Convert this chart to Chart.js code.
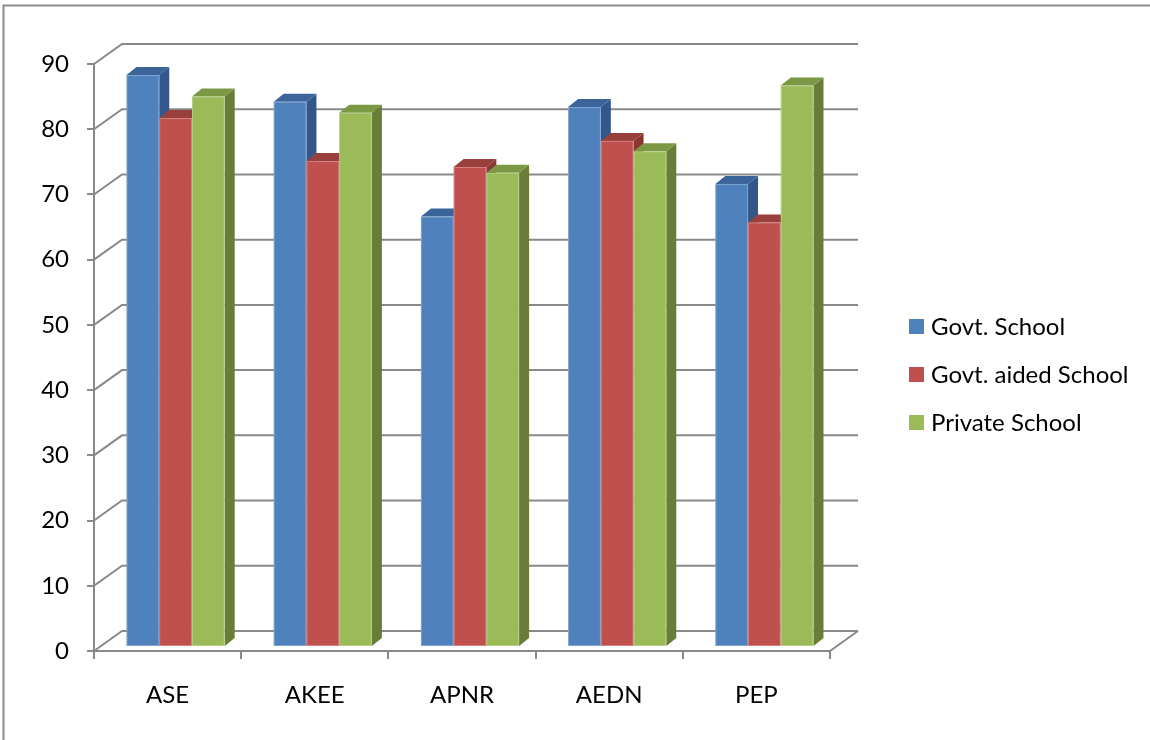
<!DOCTYPE html>
<html>
<head>
<meta charset="utf-8">
<script src="https://cdn.jsdelivr.net/npm/chart.js@4.4.1/dist/chart.umd.min.js"></script>
<style>
  html, body { margin: 0; padding: 0; background: #ffffff; }
  #wrap { position: relative; width: 1150px; height: 740px; }
</style>
</head>
<body>
<div id="wrap"><canvas id="c" width="1150" height="740"></canvas></div>
<script>
// Category labels and series values
const categories = ['ASE', 'AKEE', 'APNR', 'AEDN', 'PEP'];
const seriesNames = ['Govt. School', 'Govt. aided School', 'Private School'];
const govtSchool = [87.7, 83.6, 66.0, 82.8, 71.0];
const govtAidedSchool = [81.1, 74.5, 73.6, 77.6, 65.1];
const privateSchool = [84.4, 81.9, 72.7, 76.0, 86.1];
const yMin = 0, yMax = 90, yStep = 10;

// Face colours: front, top, side
const frontColors = ['#4F81BD', '#C0504D', '#9BBB59'];
const topColors = ['#3B659A', '#99403D', '#7B9845'];
const sideColors = ['#33578A', '#8A3633', '#677D38'];

const GRID = '#898989';
const FONT = 'Lato';
const FONT_SIZE = 24;

// 3D geometry of the plot box (wall depth) and of the bars
const WALL_DX = 28, WALL_DY = -20;
const BAR_OX = 8, BAR_OY = -4;      // bar front plane behind the floor edge
const BAR_DX = 10, BAR_DY = -8;     // bar depth

const box3d = {
  id: 'box3d',
  beforeDraw(chart) {
    const ctx = chart.ctx;
    ctx.save();
    ctx.fillStyle = '#ffffff';
    ctx.fillRect(0, 0, chart.width, chart.height);
    // outer frame
    ctx.strokeStyle = '#8c8c8c';
    ctx.lineWidth = 2;
    ctx.beginPath();
    ctx.moveTo(3.5, chart.height);
    ctx.lineTo(3.5, 5.5);
    ctx.lineTo(chart.width, 5.5);
    ctx.stroke();
    ctx.restore();
  },
  beforeDatasetsDraw(chart) {
    const ctx = chart.ctx;
    const ys = chart.scales.y;
    const a = chart.chartArea;
    ctx.save();
    // gridlines: side wall diagonal + back wall
    ctx.strokeStyle = GRID;
    ctx.lineWidth = 2;
    ctx.lineJoin = 'miter';
    ys.ticks.forEach(t => {
      const y = ys.getPixelForValue(t.value);
      ctx.beginPath();
      ctx.moveTo(a.left, y);
      ctx.lineTo(a.left + WALL_DX, y + WALL_DY);
      ctx.lineTo(a.right + WALL_DX, y + WALL_DY);
      ctx.stroke();
    });
    // right edge of the floor
    ctx.beginPath();
    ctx.moveTo(a.right, a.bottom);
    ctx.lineTo(a.right + WALL_DX, a.bottom + WALL_DY);
    ctx.stroke();

    // bars, left to right inside each group
    chart.data.datasets.forEach((ds, d) => {
      const meta = chart.getDatasetMeta(d);
      meta.data.forEach(el => {
        const p = el.getProps(['x', 'y', 'base', 'width'], true);
        const l = p.x - p.width / 2 + BAR_OX;
        const r = p.x + p.width / 2 + BAR_OX;
        const t = p.y + BAR_OY;
        const b = p.base + BAR_OY;
        // side face
        ctx.fillStyle = sideColors[d];
        ctx.beginPath();
        ctx.moveTo(r, t);
        ctx.lineTo(r + BAR_DX, t + BAR_DY);
        ctx.lineTo(r + BAR_DX, b + BAR_DY);
        ctx.lineTo(r, b);
        ctx.closePath();
        ctx.fill();
        // top face
        ctx.fillStyle = topColors[d];
        ctx.beginPath();
        ctx.moveTo(l, t);
        ctx.lineTo(l + BAR_DX, t + BAR_DY);
        ctx.lineTo(r + BAR_DX, t + BAR_DY);
        ctx.lineTo(r, t);
        ctx.closePath();
        ctx.fill();
        // front face
        ctx.fillStyle = frontColors[d];
        ctx.fillRect(l, t, r - l, b - t);
        ctx.strokeStyle = 'rgba(255,255,255,0.28)';
        ctx.lineWidth = 1;
        ctx.strokeRect(l + 0.5, t + 0.5, r - l - 1, b - t - 1);
      });
    });
    ctx.restore();
    return false;
  },
  afterDraw(chart) {
    // legend at the right
    const ctx = chart.ctx;
    ctx.save();
    ctx.font = FONT_SIZE + 'px ' + FONT;
    ctx.textBaseline = 'middle';
    ctx.textAlign = 'left';
    chart.data.datasets.forEach((ds, i) => {
      const cy = 326.5 + i * 48;
      ctx.fillStyle = ds.backgroundColor;
      ctx.fillRect(909, cy - 7.5, 15, 15);
      ctx.fillStyle = '#000000';
      ctx.fillText(ds.label, 931, cy + 1);
    });
    ctx.restore();
  }
};

const seriesValues = [govtSchool, govtAidedSchool, privateSchool];

new Chart(document.getElementById('c'), {
  type: 'bar',
  data: {
    labels: categories,
    datasets: seriesValues.map((vals, i) => ({
      label: seriesNames[i],
      data: vals,
      backgroundColor: frontColors[i],
      borderWidth: 0,
      categoryPercentage: 0.667,
      barPercentage: 1
    }))
  },
  options: {
    responsive: false,
    animation: false,
    devicePixelRatio: 1,
    layout: { padding: { left: 0, top: 64, right: 320, bottom: 25 } },
    plugins: {
      legend: { display: false },
      tooltip: { enabled: false }
    },
    scales: {
      x: {
        type: 'category',
        offset: true,
        grid: { offset: true, drawOnChartArea: false, drawTicks: true, tickLength: 8, color: GRID, lineWidth: 2 },
        border: { display: true, color: GRID, width: 2 },
        ticks: { font: { family: FONT, size: FONT_SIZE }, color: '#000000', padding: 22, maxRotation: 0 },
        afterFit(s) { s.height = 64; }
      },
      y: {
        min: yMin,
        max: yMax,
        grid: { drawOnChartArea: false, drawTicks: true, tickLength: 7, color: GRID, lineWidth: 2 },
        border: { display: true, color: GRID, width: 2 },
        ticks: { stepSize: yStep, font: { family: FONT, size: FONT_SIZE }, color: '#000000', padding: 18 },
        afterFit(s) { s.width = 94; }
      }
    }
  },
  plugins: [box3d]
});
</script>
</body>
</html>
